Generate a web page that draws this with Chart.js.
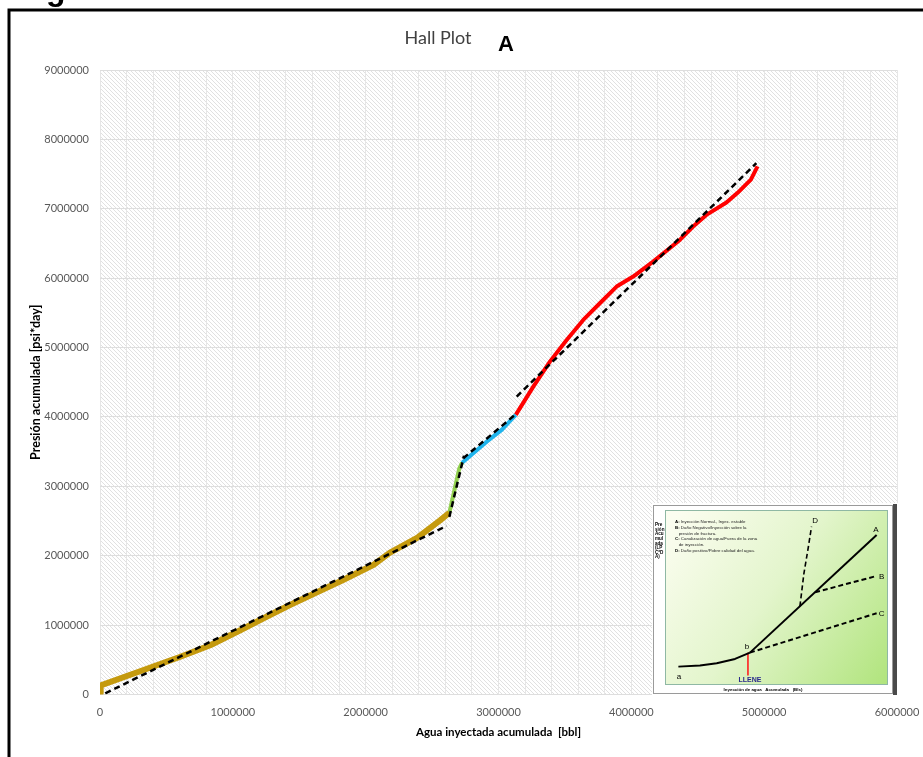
<!DOCTYPE html>
<html>
<head>
<meta charset="utf-8">
<title>Hall Plot</title>
<script src="https://cdn.jsdelivr.net/npm/chart.js@4/dist/chart.umd.min.js"></script>
<style>
  html, body { margin: 0; padding: 0; background: #fff; }
  #wrap { position: relative; width: 923px; height: 757px; overflow: hidden; }
  #hall { position: absolute; left: 0; top: 0; width: 923px; height: 757px; }
  #inset { position: absolute; left: 652px; top: 503px; width: 246px; height: 193px; }
</style>
</head>
<body>
<div id="wrap">
  <canvas id="hall" width="923" height="757"></canvas>
  <canvas id="inset" width="246" height="193"></canvas>
</div>
<script>
// ---- Hall plot data: cumulative injected water [bbl] vs cumulative pressure [psi*day] ----
const goldX  = [0, 5000, 600000, 830000, 1060000, 1246000, 1430000, 1830000, 2060000, 2180000, 2390000, 2560000, 2630000];
const goldY  = [20000, 130000, 540000, 710000, 930000, 1113000, 1290000, 1650000, 1870000, 2040000, 2260000, 2510000, 2620000];
const greenX = [2630000, 2705000, 2726000];
const greenY = [2620000, 3260000, 3340000];
const blueX  = [2726000, 2911000, 3024000, 3130000];
const blueY  = [3340000, 3644000, 3813000, 4030000];
const redX   = [3130000, 3262000, 3387000, 3513000, 3638000, 3763000, 3889000, 4014000, 4164000, 4365000, 4465000, 4565000, 4716000, 4800000, 4900000, 4950000];
const redY   = [4030000, 4437000, 4797000, 5110000, 5398000, 5639000, 5879000, 6023000, 6239000, 6551000, 6743000, 6912000, 7090000, 7230000, 7420000, 7610000];

// straight-line trends for each stage
const fitGoldX  = [40000, 2610000];   const fitGoldY  = [17000, 2430000];
const fitGreenX = [2630000, 2740000]; const fitGreenY = [2560000, 3440000];
const fitBlueX  = [2735000, 3124000]; const fitBlueY  = [3405000, 4030000];
const fitRedX   = [3137000, 4941000]; const fitRedY   = [4293000, 7657000];

// axis ranges / ticks
const xMax = 6000000, xMinorStep = 200000, xMajorStep = 1000000;
const yMax = 9000000, yStep = 1000000;

// ---- reference sketch (diagnostic Hall plot patterns), arbitrary units 0-100 ----
const skCurveX = [6.0, 15.7, 23.2, 31.4, 38.1];
const skCurveY = [10.5, 11.1, 12.4, 14.9, 18.5];
const skAX = [38.1, 94.9];       const skAY = [18.5, 85.7];
const skBX = [67.3, 94.9];       const skBY = [53.0, 62.3];
const skCX = [38.1, 94.9];       const skCY = [18.5, 41.0];
const skDX = [60.5, 62.3, 64.3, 65.7]; const skDY = [45.0, 63.8, 79.0, 90.5];
const skLleneX = [37.2, 37.2];   const skLleneY = [18.1, 5.7];
const skLegend = [
  ['A:', ' Inyección Normal., Inyec. estable'],
  ['B:', ' Daño Negativo/Inyección sobre la'],
  ['',   '   presión de fractura.'],
  ['C:', ' Canalización de agua/Fuera de la zona'],
  ['',   '   de inyección.'],
  ['D:', ' Daño positivo/Pobre calidad del agua.']
];
const skSideLabel = ['Pre', 'sión', 'Acu', 'mul', 'ada', '(LP', 'C*D', 'A)'];

const pts = (xs, ys) => xs.map((x, i) => ({ x, y: ys[i] }));

const solid = (label, xs, ys, color, w) => ({
  label, data: pts(xs, ys), showLine: true, borderColor: color, backgroundColor: color,
  borderWidth: w, pointRadius: 0, tension: 0, order: 2,
  borderCapStyle: 'butt', borderJoinStyle: 'round'
});
const dashed = (label, xs, ys, w, dash) => ({
  label, data: pts(xs, ys), showLine: true, borderColor: '#000', backgroundColor: '#000',
  borderWidth: w, borderDash: dash, pointRadius: 0, tension: 0, order: 1
});

// diagonal hatch fill for the plot area
const hatchTile = (() => {
  const c = document.createElement('canvas');
  c.width = 4; c.height = 4;
  const g = c.getContext('2d');
  g.fillStyle = '#ffffff'; g.fillRect(0, 0, 4, 4);
  g.fillStyle = '#e1e1e1';
  for (let i = 0; i < 4; i++) g.fillRect(i, i, 1, 1);
  return c;
})();

const hallDecor = {
  id: 'hallDecor',
  beforeDraw(chart) {
    const { ctx, chartArea: a } = chart;
    ctx.save();
    ctx.fillStyle = '#fff';
    ctx.fillRect(0, 0, chart.width, chart.height);
    ctx.fillStyle = ctx.createPattern(hatchTile, 'repeat');
    ctx.fillRect(a.left, a.top, a.right - a.left, a.bottom - a.top);
    ctx.restore();
  },
  afterDraw(chart) {
    const { ctx } = chart;
    ctx.save();
    // frame
    ctx.strokeStyle = '#000';
    ctx.lineWidth = 3;
    ctx.strokeRect(9, 10, 1000, 900);
    // heading fragment above the frame
    ctx.fillStyle = '#000';
    ctx.font = 'bold 32px "Liberation Sans", Arial, sans-serif';
    ctx.textBaseline = 'alphabetic';
    ctx.textAlign = 'left';
    ctx.fillText('g', 46, 0);
    // title
    ctx.fillStyle = '#404040';
    ctx.font = '18px Lato, "Liberation Sans", sans-serif';
    ctx.textAlign = 'center';
    ctx.textBaseline = 'middle';
    ctx.fillText('Hall Plot', 438, 38);
    ctx.fillStyle = '#000';
    ctx.font = 'bold 22px "Liberation Sans", Arial, sans-serif';
    ctx.fillText('A', 506, 45);
    ctx.restore();
  }
};

new Chart(document.getElementById('hall'), {
  type: 'scatter',
  data: {
    datasets: [
      solid('Etapa 1', goldX, goldY, '#c59a0e', 6),
      solid('Etapa 2', greenX, greenY, '#92d050', 4),
      solid('Etapa 3', blueX, blueY, '#1fb4ec', 4),
      solid('Etapa 4', redX, redY, '#ff0000', 4),
      dashed('Tendencia 1', fitGoldX, fitGoldY, 2.5, [6, 4]),
      dashed('Tendencia 2', fitGreenX, fitGreenY, 2.5, [6, 4]),
      dashed('Tendencia 3', fitBlueX, fitBlueY, 2.5, [6, 4]),
      dashed('Tendencia 4', fitRedX, fitRedY, 2.5, [6, 4])
    ]
  },
  options: {
    responsive: false,
    animation: false,
    layout: { padding: { left: 20, right: 26, top: 70, bottom: 0 } },
    plugins: { legend: { display: false }, tooltip: { enabled: false }, title: { display: false } },
    scales: {
      x: {
        type: 'linear', min: 0, max: xMax,
        border: { display: false },
        grid: { color: '#e6e6e6', lineWidth: 1, drawTicks: false },
        ticks: {
          stepSize: xMinorStep, autoSkip: false, maxRotation: 0, padding: 11,
          color: '#595959', font: { family: 'Lato, "Liberation Sans", sans-serif', size: 11 },
          callback: v => (v % xMajorStep === 0 ? String(v) : '')
        },
        title: {
          display: true, text: 'Agua inyectada acumulada  [bbl]', color: '#000',
          font: { family: 'Lato, "Liberation Sans", sans-serif', size: 11.5, weight: 'bold' },
          padding: { top: 0, bottom: 18 }
        },
        afterFit: s => { s.height = 62.5; s.paddingLeft = 0; s.paddingRight = 0; }
      },
      y: {
        type: 'linear', min: 0, max: yMax,
        border: { display: false },
        grid: { color: '#dedede', lineWidth: 1, drawTicks: false },
        ticks: {
          stepSize: yStep, padding: 11,
          color: '#595959', font: { family: 'Lato, "Liberation Sans", sans-serif', size: 11 },
          callback: v => String(v)
        },
        title: {
          display: true, text: 'Presión acumulada [psi*day]', color: '#000',
          font: { family: 'Lato, "Liberation Sans", sans-serif', size: 12.5, weight: 'bold' },
          padding: { top: 8.5, bottom: 0 }
        },
        afterFit: s => { s.width = 80; s.paddingTop = 0; s.paddingBottom = 0; }
      }
    }
  },
  plugins: [hallDecor]
});

// ---- inset sketch ----
const insetDecor = {
  id: 'insetDecor',
  beforeDraw(chart) {
    const { ctx, chartArea: a } = chart;
    ctx.save();
    ctx.fillStyle = '#fff';
    ctx.fillRect(0, 0, chart.width, chart.height);
    ctx.strokeStyle = '#9a9a9a';
    ctx.lineWidth = 1;
    ctx.strokeRect(1.5, 2.5, 239, 188);
    // clipped side label of the sketch's vertical axis
    ctx.fillStyle = '#000';
    ctx.font = 'bold 4.6px "Liberation Sans", Arial, sans-serif';
    ctx.textBaseline = 'middle';
    ctx.textAlign = 'left';
    skSideLabel.forEach((t, i) => ctx.fillText(t, 3, 22 + i * 4.6));
    // gradient panel
    const g = ctx.createLinearGradient(a.left, a.top + 20, a.right, a.bottom);
    g.addColorStop(0, '#fbfdf0');
    g.addColorStop(0.45, '#e3f5cc');
    g.addColorStop(1, '#b0e47c');
    ctx.fillStyle = g;
    ctx.fillRect(a.left, a.top, a.right - a.left, a.bottom - a.top);
    ctx.strokeStyle = '#8fb8a4';
    ctx.lineWidth = 1;
    ctx.strokeRect(a.left + 0.5, a.top + 0.5, a.right - a.left - 1, a.bottom - a.top - 1);
    ctx.restore();
  },
  afterDraw(chart) {
    const { ctx, chartArea: a, scales: { x, y } } = chart;
    ctx.save();
    // dark edge at right
    ctx.fillStyle = '#4a4a4a';
    ctx.fillRect(241, 1, 4, 191);
    // legend of patterns
    ctx.textBaseline = 'middle';
    ctx.textAlign = 'left';
    skLegend.forEach(([k, t], i) => {
      const yy = 18.5 + i * 5.9;
      ctx.font = 'bold 4.4px "Liberation Sans", Arial, sans-serif';
      ctx.fillStyle = '#000';
      ctx.fillText(k, a.left + 10, yy);
      const kw = ctx.measureText(k).width;
      ctx.font = '4.4px "Liberation Sans", Arial, sans-serif';
      ctx.fillStyle = '#222';
      ctx.fillText(t, a.left + 10 + kw, yy);
    });
    // point letters
    ctx.fillStyle = '#000';
    ctx.textAlign = 'center';
    ctx.font = '8px "Liberation Sans", Arial, sans-serif';
    const lab = (t, vx, vy) => ctx.fillText(t, x.getPixelForValue(vx), y.getPixelForValue(vy));
    lab('a', 6.3, 4.6);
    lab('b', 36.8, 21.9);
    lab('A', 94.6, 88.6);
    lab('B', 97.2, 61.7);
    lab('C', 97.2, 40.6);
    lab('D', 67.3, 93.9);
    // LLENE marker
    ctx.fillStyle = '#2a2a8c';
    ctx.font = 'bold 7px "Liberation Sans", Arial, sans-serif';
    lab('LLENE', 38.1, 2.6);
    // sketch x-axis label
    ctx.fillStyle = '#000';
    ctx.font = 'bold 4.4px "Liberation Sans", Arial, sans-serif';
    ctx.fillText('Inyección de agua   Acumulada   (Bls)', 111, 187);
    ctx.restore();
  }
};

new Chart(document.getElementById('inset'), {
  type: 'scatter',
  data: {
    datasets: [
      solid('a-b', skCurveX, skCurveY, '#000', 2),
      solid('A', skAX, skAY, '#000', 2),
      dashed('B', skBX, skBY, 2, [5, 3]),
      dashed('C', skCX, skCY, 2, [5, 3]),
      dashed('D', skDX, skDY, 1.6, [5, 3]),
      solid('LLENE', skLleneX, skLleneY, '#ff2020', 1.6)
    ]
  },
  options: {
    responsive: false,
    animation: false,
    layout: { padding: { left: 13, top: 7, right: 10, bottom: 11 } },
    plugins: { legend: { display: false }, tooltip: { enabled: false } },
    scales: {
      x: { type: 'linear', display: false, min: 0, max: 100 },
      y: { type: 'linear', display: false, min: 0, max: 100 }
    }
  },
  plugins: [insetDecor]
});
</script>
</body>
</html>
